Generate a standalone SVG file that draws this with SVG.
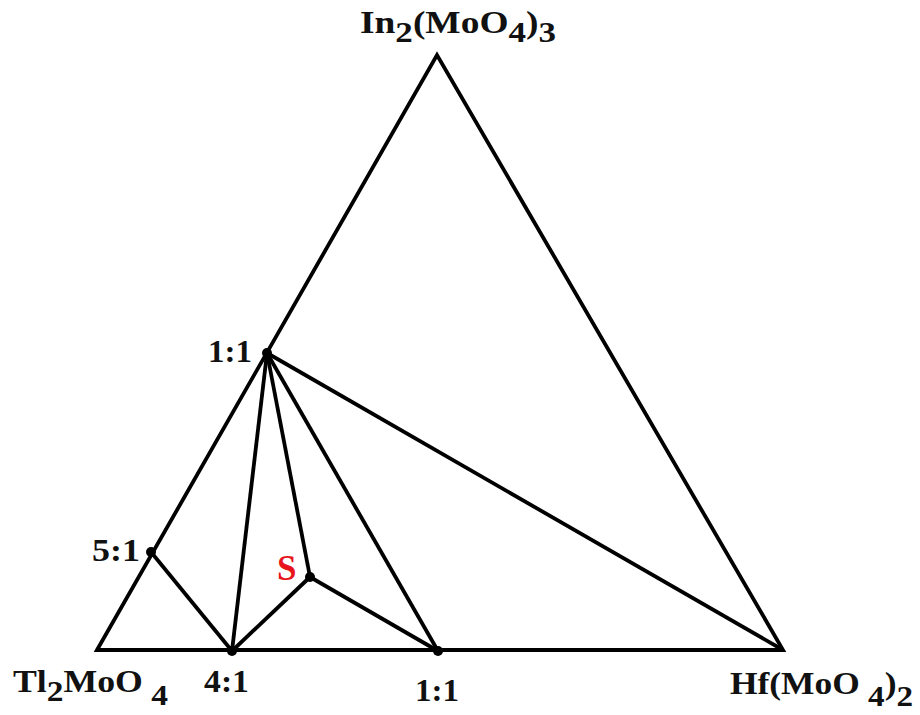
<svg xmlns="http://www.w3.org/2000/svg" width="920" height="715" viewBox="0 0 920 715">
<style>
.ln{stroke:#000;stroke-width:3.8;fill:none;stroke-linejoin:miter}
text{font-family:'Liberation Serif','Times New Roman',Times,serif;font-weight:700;font-size:31px;fill:#111}
.sub{font-size:29px}
.pt{fill:#000}
.red{fill:#e8141c;font-size:35px}
</style>
<rect width="920" height="715" fill="#fff"/>
<g id="connectors">
<path class="ln" d="M97 650 L437 55 L783 650 Z"/>
<line class="ln" x1="267" y1="353" x2="783" y2="650"/>
<line class="ln" x1="267" y1="353" x2="232" y2="651"/>
<line class="ln" x1="267" y1="353" x2="310" y2="577"/>
<line class="ln" x1="267" y1="353" x2="438" y2="651"/>
<line class="ln" x1="151" y1="552" x2="232" y2="651"/>
<line class="ln" x1="232" y1="651" x2="310" y2="577"/>
<line class="ln" x1="310" y1="577" x2="438" y2="651"/>
</g>
<g id="In2MoO43"><text x="360" y="33" textLength="196" lengthAdjust="spacingAndGlyphs">In<tspan class="sub" dy="9">2</tspan><tspan dy="-9">(MoO</tspan><tspan class="sub" dy="9">4</tspan><tspan dy="-9">)</tspan><tspan class="sub" dy="9">3</tspan></text></g>
<g id="Tl2MoO4"><text x="13" y="692" textLength="155" lengthAdjust="spacingAndGlyphs">Tl<tspan class="sub" dy="9">2</tspan><tspan dy="-9">MoO</tspan><tspan class="sub" dy="13"> 4</tspan></text></g>
<g id="HfMoO42"><text x="730" y="694" textLength="183" lengthAdjust="spacingAndGlyphs">Hf(MoO<tspan class="sub" dy="12"> 4</tspan><tspan dy="-12">)</tspan><tspan class="sub" dy="12">2</tspan></text></g>
<g id="p11top"><circle class="pt" cx="267" cy="353" r="5"/><text x="208" y="362" textLength="44" lengthAdjust="spacingAndGlyphs">1:1</text></g>
<g id="p51"><circle class="pt" cx="151" cy="552" r="5"/><text x="92" y="561" textLength="48" lengthAdjust="spacingAndGlyphs">5:1</text></g>
<g id="p41"><circle class="pt" cx="232" cy="651" r="5"/><text x="204" y="692" textLength="45" lengthAdjust="spacingAndGlyphs">4:1</text></g>
<g id="p11bot"><circle class="pt" cx="438" cy="651" r="5"/><text x="415" y="701" textLength="44" lengthAdjust="spacingAndGlyphs">1:1</text></g>
<g id="pS"><circle class="pt" cx="310" cy="577" r="5"/><text class="red" x="277" y="580">S</text></g>
</svg>
